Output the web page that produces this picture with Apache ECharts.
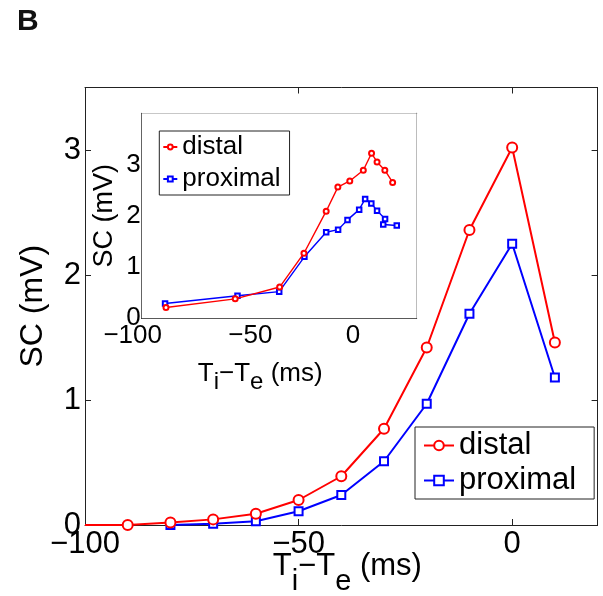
<!DOCTYPE html>
<html><head><meta charset="utf-8">
<script src="https://cdn.jsdelivr.net/npm/echarts@6/dist/echarts.min.js"></script>
<style>html,body{margin:0;padding:0;background:#fff}#c{width:603px;height:596px}</style>
</head><body><div id="c"></div>
<script>
// ---- main panel data ----
const mainDistalX = [-100, -90, -80, -70, -60, -50, -40, -30, -20, -10, 0, 10];
const mainDistalY = [0, 0, 0.02, 0.045, 0.09, 0.2, 0.39, 0.77, 1.42, 2.36, 3.02, 1.46];
const mainProxX = [-80, -70, -60, -50, -40, -30, -20, -10, 0, 10];
const mainProxY = [0, 0.01, 0.03, 0.11, 0.24, 0.51, 0.97, 1.69, 2.25, 1.18];
// ---- inset data ----
const insetDistalX = [-89.4, -59.2, -39.8, -29.2, -19.5, -14.4, -9.2, -3.3, 0.3, 2.7, 6.1, 9.5];
const insetDistalY = [0.21, 0.38, 0.61, 1.27, 2.09, 2.56, 2.68, 2.89, 3.22, 3.05, 2.89, 2.65];
const insetProxX = [-89.8, -58.2, -40, -29, -19.5, -14.3, -10.2, -5.1, -2.5, 0.2, 2.7, 6.2, 5.4, 11.3];
const insetProxY = [0.29, 0.44, 0.52, 1.2, 1.68, 1.73, 1.92, 2.12, 2.33, 2.24, 2.1, 1.94, 1.83, 1.81];
// ---- ticks ----
const xTicks = [-100, -50, 0];
const mainYTicks = [0, 1, 2, 3];
const insetYTicks = [0, 1, 2, 3];
const seriesNames = ['distal', 'proximal'];
const xTitle = ['T', 'i', '\u2212T', 'e', ' (ms)'];
const yTitle = 'SC (mV)';
const panelLabel = 'B';

const FONT = '"Liberation Sans", Arial, Helvetica, sans-serif';
const RED = '#ff0000', BLUE = '#0000ff', AX = '#222';
const fmtTick = (list) => (v) => list.indexOf(v) >= 0 ? String(v).replace('-', '\u2212') : '';
const zip = (xs, ys) => xs.map((x, i) => [x, ys[i]]);

const chart = echarts.init(document.getElementById('c'));

function xAxisPair(gi, fs, tickLen, nameFs, nameGap, namePad, labelMargin, rich, subDrop) {
  const line = { show: true, onZero: false, lineStyle: { color: AX, width: 1 } };
  const tick = { show: true, inside: true, length: tickLen, lineStyle: { color: AX } };
  const xr = {
    t: { fontSize: nameFs, fontFamily: FONT, color: '#000' },
    s: { fontSize: nameFs - 2, fontFamily: FONT, color: '#000', padding: [subDrop * 2, 0, 0, 0] }
  };
  return [{
    gridIndex: gi, type: 'value', min: -100, max: 20, interval: 50, position: 'bottom',
    axisLine: line, axisTick: tick, splitLine: { show: false },
    axisLabel: { fontSize: fs, fontFamily: FONT, color: '#000', margin: labelMargin,
      formatter: rich ? ((v) => xTicks.indexOf(v) >= 0 ? '{r' + (xTicks.indexOf(v)) + '|' + String(v).replace('-', '\u2212') + '}' : '') : fmtTick(xTicks),
      rich: rich || {} },
    name: '{t|' + xTitle[0] + '}{s|' + xTitle[1] + '}{t|' + xTitle[2] + '}{s|' + xTitle[3] + '}{t|' + xTitle[4] + '}',
    nameLocation: 'middle', nameGap: nameGap, nameMoveOverlap: false,
    nameTextStyle: { rich: xr, padding: namePad }
  }, {
    gridIndex: gi, type: 'value', min: -100, max: 20, interval: 50, position: 'top',
    axisLine: line, axisTick: tick, splitLine: { show: false }, axisLabel: { show: false }
  }];
}
function yAxisPair(gi, max, ticks, fs, tickLen, nameFs, nameGap, labelMargin) {
  const line = { show: true, onZero: false, lineStyle: { color: AX, width: 1 } };
  const tick = { show: true, inside: true, length: tickLen, lineStyle: { color: AX } };
  return [{
    gridIndex: gi, type: 'value', min: 0, max: max, interval: 1, position: 'left',
    axisLine: line, axisTick: tick, splitLine: { show: false },
    axisLabel: { fontSize: fs, fontFamily: FONT, color: '#000', margin: labelMargin, formatter: fmtTick(ticks) },
    name: yTitle, nameLocation: 'middle', nameGap: nameGap, nameMoveOverlap: false,
    nameTextStyle: { fontSize: nameFs, fontFamily: FONT, color: '#000' }
  }, {
    gridIndex: gi, type: 'value', min: 0, max: max, interval: 1, position: 'right',
    axisLine: line, axisTick: tick, splitLine: { show: false }, axisLabel: { show: false }
  }];
}

const insetRich = {
  r0: { fontSize: 26, fontFamily: FONT, color: '#000', padding: [0, 18, 0, 0] },
  r1: { fontSize: 26, fontFamily: FONT, color: '#000', padding: [0, 12, 0, 0] },
  r2: { fontSize: 26, fontFamily: FONT, color: '#000', padding: [0, 36, 0, 0] }
};

const xs = [].concat(
  xAxisPair(0, 31, 6, 31, 12, [0, 0, 0, 12], 4, null, 15),
  xAxisPair(1, 26, 4, 26, 36, [0, 38, 0, 0], 5, insetRich, 8)
);
const ys = [].concat(
  yAxisPair(0, 3.5, mainYTicks, 31, 6, 32, 36, 4),
  yAxisPair(1, 4, insetYTicks, 26, 4, 27, 24, 1)
);

function line(name, xi, yi, data, color, sym, size, lw, bw, z) {
  return {
    type: 'line', name: name, xAxisIndex: xi, yAxisIndex: yi, data: data,
    symbol: sym, symbolSize: size, showAllSymbol: true, clip: false, z: z,
    lineStyle: { color: color, width: lw },
    itemStyle: { color: color, borderColor: color, borderWidth: bw },
    emphasis: { disabled: true }
  };
}

const distalMainData = zip(mainDistalX, mainDistalY).map((p, i) => i === 0 ? { value: p, symbol: 'none' } : p);

chart.setOption({
  animation: false,
  backgroundColor: '#fff',
  title: { text: panelLabel, left: 12, top: 2, textStyle: { fontSize: 30, fontWeight: 'bold', fontFamily: FONT, color: '#111' } },
  grid: [
    { left: 85, top: 87.5, width: 512.6, height: 437.5, outerBoundsMode: 'none', containLabel: false },
    { left: 141.7, top: 113.3, width: 275, height: 205, show: true, backgroundColor: '#fff', borderWidth: 0, z: 5, outerBoundsMode: 'none', containLabel: false }
  ],
  xAxis: xs,
  yAxis: ys,
  legend: [
    { data: seriesNames, orient: 'vertical', left: 415, top: 427, itemWidth: 30, itemHeight: 12, itemGap: 0,
      padding: [1, 18, 1, 8], borderColor: AX, borderWidth: 1, backgroundColor: '#fff',
      textStyle: { fontSize: 31, fontFamily: FONT, color: '#000', lineHeight: 35 },
      selectedMode: false },
    { data: seriesNames.map(n => n + ' (inset)'), orient: 'vertical', left: 159.3, top: 131, itemWidth: 14, itemHeight: 6, itemGap: 0,
      padding: [0, 9, 0, 3], borderColor: AX, borderWidth: 1, backgroundColor: '#fff',
      formatter: (n) => n.replace(' (inset)', ''),
      textStyle: { fontSize: 26, fontFamily: FONT, color: '#000', lineHeight: 32 },
      selectedMode: false, z: 20 }
  ],
  series: [
    line('distal', 0, 0, distalMainData, RED, 'emptyCircle', 10, 2, 2, 3),
    line('proximal', 0, 0, zip(mainProxX, mainProxY), BLUE, 'emptyRect', 8, 2, 2, 2),
    line('distal (inset)', 2, 2, zip(insetDistalX, insetDistalY), RED, 'emptyCircle', 5, 1.4, 1, 12),
    line('proximal (inset)', 2, 2, zip(insetProxX, insetProxY), BLUE, 'emptyRect', 4.5, 1.4, 1, 11)
  ]
});
</script></body></html>
